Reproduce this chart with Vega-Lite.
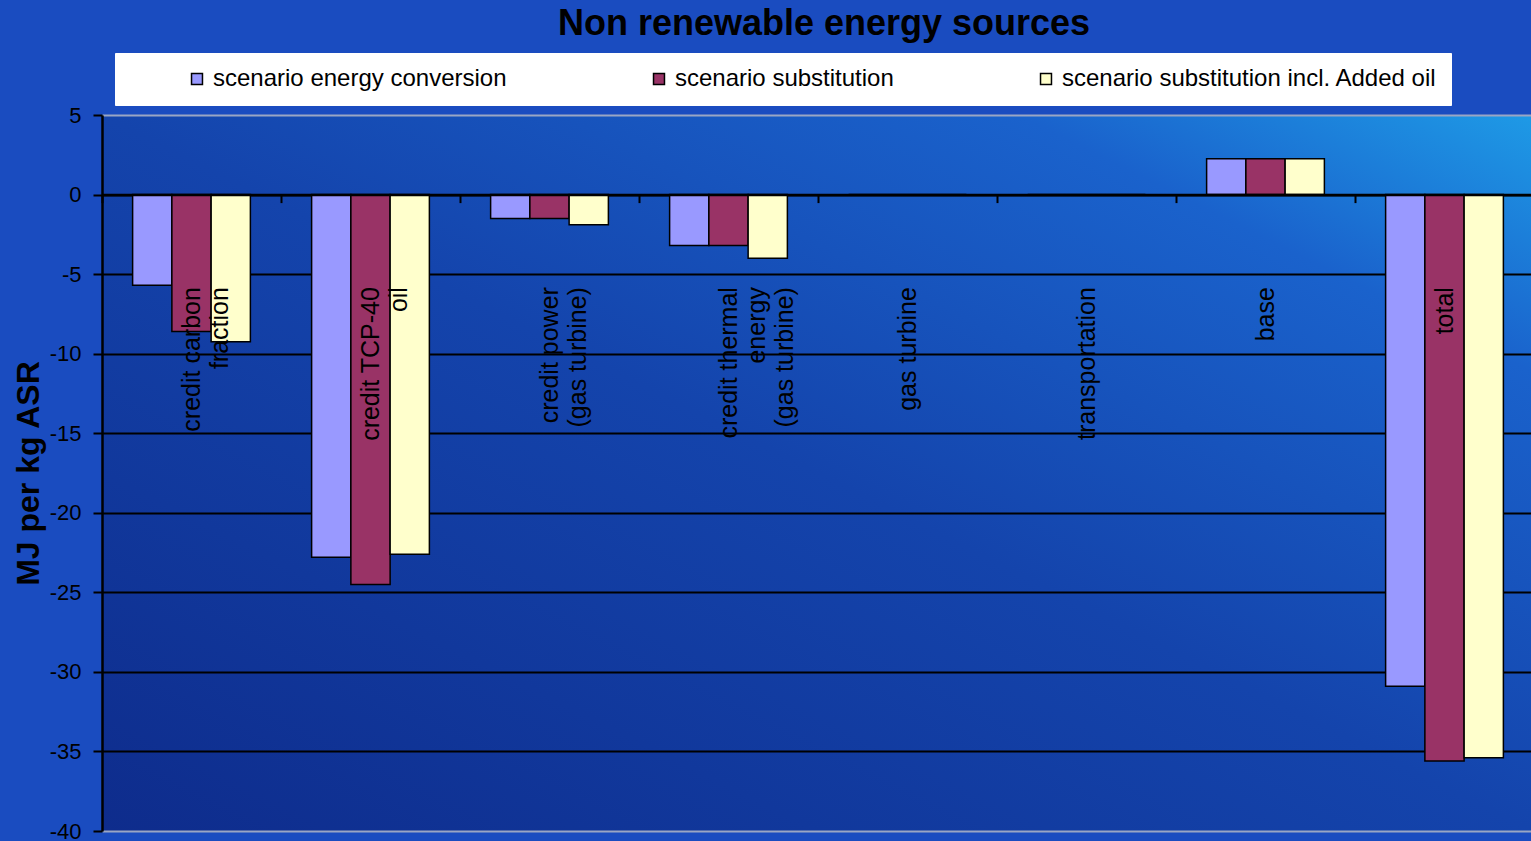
{
  "$schema": "https://vega.github.io/schema/vega-lite/v6.json",
  "width": 1432,
  "height": 716,
  "autosize": {"type": "none"},
  "padding": {"left": 102, "top": 115, "right": 0, "bottom": 10},
  "background": "#1a4cc0",
  "title": {
    "text": "Non renewable energy sources",
    "anchor": "middle",
    "offset": 10,
    "font": "Liberation Sans",
    "fontSize": 36,
    "fontWeight": "bold",
    "color": "#000000",
    "dx": 6
  },
  "data": {
    "values": [
      {"source": "credit carbon|fraction", "scenario": "scenario energy conversion", "value": -5.7},
      {"source": "credit carbon|fraction", "scenario": "scenario substitution", "value": -8.6},
      {"source": "credit carbon|fraction", "scenario": "scenario substitution incl. Added oil", "value": -9.25},
      {"source": "credit TCP-40|oil", "scenario": "scenario energy conversion", "value": -22.8},
      {"source": "credit TCP-40|oil", "scenario": "scenario substitution", "value": -24.5},
      {"source": "credit TCP-40|oil", "scenario": "scenario substitution incl. Added oil", "value": -22.6},
      {"source": "credit power|(gas turbine)", "scenario": "scenario energy conversion", "value": -1.5},
      {"source": "credit power|(gas turbine)", "scenario": "scenario substitution", "value": -1.5},
      {"source": "credit power|(gas turbine)", "scenario": "scenario substitution incl. Added oil", "value": -1.9},
      {"source": "credit thermal|energy|(gas turbine)", "scenario": "scenario energy conversion", "value": -3.2},
      {"source": "credit thermal|energy|(gas turbine)", "scenario": "scenario substitution", "value": -3.2},
      {"source": "credit thermal|energy|(gas turbine)", "scenario": "scenario substitution incl. Added oil", "value": -4.0},
      {"source": "gas turbine", "scenario": "scenario energy conversion", "value": 0},
      {"source": "gas turbine", "scenario": "scenario substitution", "value": 0},
      {"source": "gas turbine", "scenario": "scenario substitution incl. Added oil", "value": 0},
      {"source": "transportation", "scenario": "scenario energy conversion", "value": 0},
      {"source": "transportation", "scenario": "scenario substitution", "value": 0},
      {"source": "transportation", "scenario": "scenario substitution incl. Added oil", "value": 0},
      {"source": "base", "scenario": "scenario energy conversion", "value": 2.25},
      {"source": "base", "scenario": "scenario substitution", "value": 2.25},
      {"source": "base", "scenario": "scenario substitution incl. Added oil", "value": 2.25},
      {"source": "total", "scenario": "scenario energy conversion", "value": -30.9},
      {"source": "total", "scenario": "scenario substitution", "value": -35.6},
      {"source": "total", "scenario": "scenario substitution incl. Added oil", "value": -35.4}
    ]
  },
  "mark": {"type": "bar", "stroke": "#000000", "strokeWidth": 1.5, "opacity": 1},
  "encoding": {
    "x": {
      "field": "source",
      "type": "nominal",
      "sort": null,
      "scale": {"paddingInner": 0, "paddingOuter": 0},
      "axis": {
        "title": null,
        "zindex": 1,
        "offset": -636.4,
        "labelAngle": -90,
        "labelAlign": "right",
        "labelBaseline": "middle",
        "labelPadding": 84,
        "labelExpr": "split(datum.label, '|')",
        "labelFont": "Liberation Sans",
        "labelFontSize": 25,
        "labelColor": "#000000",
        "labelLineHeight": 28,
        "labelLimit": 400,
        "tickBand": "extent",
        "tickColor": "#000000",
        "tickSize": 8,
        "tickWidth": 2,
        "domainColor": "#000000",
        "domainWidth": 2.5,
        "grid": false
      }
    },
    "xOffset": {
      "field": "scenario",
      "type": "nominal",
      "sort": null,
      "scale": {"paddingInner": 0, "paddingOuter": 0.78}
    },
    "y": {
      "field": "value",
      "type": "quantitative",
      "scale": {"domain": [-40, 5], "nice": false, "zero": false},
      "axis": {
        "title": "MJ per kg ASR",
        "zindex": 0,
        "titleFont": "Liberation Sans",
        "titleFontSize": 32,
        "titleFontWeight": "bold",
        "titleColor": "#000000",
        "titlePadding": 4,
        "values": [5, 0, -5, -10, -15, -20, -25, -30, -35, -40],
        "labelExpr": "toString(datum.value)",
        "labelFont": "Liberation Sans",
        "labelFontSize": 22,
        "labelColor": "#000000",
        "labelPadding": 12,
        "tickColor": "#000000",
        "tickSize": 9,
        "tickWidth": 2,
        "domainColor": "#000000",
        "domainWidth": 2.5,
        "grid": true,
        "gridColor": {"condition": {"test": "datum.value == 5 || datum.value == -40", "value": "#9aa6c4"}, "value": "#000000"},
        "gridWidth": 2,
        "gridOpacity": 1
      }
    },
    "color": {
      "field": "scenario",
      "type": "nominal",
      "sort": null,
      "scale": {
        "domain": ["scenario energy conversion", "scenario substitution", "scenario substitution incl. Added oil"],
        "range": ["#9999FF", "#993366", "#FFFFCC"]
      },
      "legend": {
        "title": null,
        "orient": "none",
        "legendX": 13,
        "legendY": -62,
        "direction": "horizontal",
        "columns": 3,
        "columnPadding": 84,
        "fillColor": "#ffffff",
        "strokeColor": "#ffffff",
        "padding": 14,
        "symbolType": "square",
        "symbolSize": 120,
        "symbolOffset": 56,
        "symbolStrokeColor": "#000000",
        "symbolStrokeWidth": 1.5,
        "symbolOpacity": 1,
        "labelFont": "Liberation Sans",
        "labelFontSize": 24,
        "labelColor": "#000000",
        "labelLimit": 500,
        "labelOffset": 4
      }
    }
  },
  "config": {
    "view": {
      "stroke": null,
      "fill": {
        "gradient": "linear",
        "x1": 1, "y1": 0, "x2": 0, "y2": 1,
        "stops": [
          {"offset": 0, "color": "#1e9ae6"},
          {"offset": 0.18, "color": "#1a62cc"},
          {"offset": 0.5, "color": "#1444ac"},
          {"offset": 1, "color": "#0e2c8c"}
        ]
      }
    }
  }
}
